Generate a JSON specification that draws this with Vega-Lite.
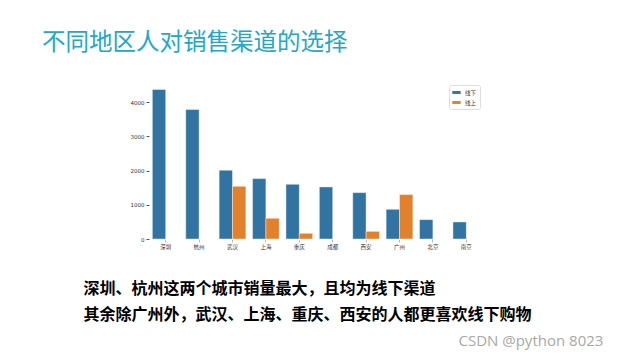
{
  "$schema": "https://vega.github.io/schema/vega-lite/v6.json",
  "width": 334,
  "height": 157,
  "autosize": {"type": "none"},
  "padding": {"left": 149, "top": 82, "right": 157, "bottom": 121},
  "background": "white",
  "title": {
    "text": "不同地区人对销售渠道的选择",
    "anchor": "start",
    "frame": "group",
    "dx": -107,
    "offset": 9,
    "baseline": "alphabetic",
    "font": "Noto Sans CJK SC",
    "fontSize": 23.5,
    "fontWeight": "normal",
    "color": "#22a7cb"
  },
  "data": {
    "values": [
      {"city": "深圳", "channel": "线下", "sales": 4371},
      {"city": "杭州", "channel": "线下", "sales": 3785},
      {"city": "武汉", "channel": "线下", "sales": 2010},
      {"city": "武汉", "channel": "线上", "sales": 1541},
      {"city": "上海", "channel": "线下", "sales": 1766},
      {"city": "上海", "channel": "线上", "sales": 605},
      {"city": "重庆", "channel": "线下", "sales": 1600},
      {"city": "重庆", "channel": "线上", "sales": 166},
      {"city": "成都", "channel": "线下", "sales": 1522},
      {"city": "西安", "channel": "线下", "sales": 1356},
      {"city": "西安", "channel": "线上", "sales": 224},
      {"city": "广州", "channel": "线下", "sales": 868},
      {"city": "广州", "channel": "线上", "sales": 1298},
      {"city": "北京", "channel": "线下", "sales": 566},
      {"city": "南京", "channel": "线下", "sales": 498}
    ]
  },
  "mark": {"type": "bar", "stroke": "#ffffff", "strokeWidth": 0.6, "strokeOpacity": 0.7},
  "encoding": {
    "x": {
      "field": "city",
      "type": "nominal",
      "sort": ["深圳", "杭州", "武汉", "上海", "重庆", "成都", "西安", "广州", "北京", "南京"],
      "scale": {"paddingInner": 0.2, "paddingOuter": 0.1},
      "axis": {
        "title": ["深圳、杭州这两个城市销量最大，且均为线下渠道", "其余除广州外，武汉、上海、重庆、西安的人都更喜欢线下购物"],
        "titleX": -66,
        "titleY": 41,
        "titleAlign": "left",
        "titleAnchor": null,
        "titleBaseline": "top",
        "titleLineHeight": 26,
        "titleFont": "Noto Sans CJK SC",
        "titleFontSize": 16,
        "titleFontWeight": "bold",
        "titleColor": "#000000",
        "labelAngle": 0,
        "labelFont": "Noto Sans CJK SC",
        "labelFontSize": 5.5,
        "labelColor": "#333333",
        "labelPadding": 2,
        "domain": false,
        "ticks": true,
        "tickSize": 3,
        "tickColor": "#bbbbbb",
        "grid": false
      }
    },
    "xOffset": {
      "field": "channel",
      "type": "nominal",
      "scale": {"domain": ["线下", "线上"], "paddingInner": 0, "paddingOuter": 0}
    },
    "y": {
      "field": "sales",
      "type": "quantitative",
      "scale": {"domain": [0, 4590], "nice": false},
      "axis": {
        "values": [0, 1000, 2000, 3000, 4000],
        "format": "d",
        "title": "CSDN @python 8023",
        "titleAngle": 0,
        "titleX": 309,
        "titleY": 258,
        "titleAlign": "left",
        "titleBaseline": "middle",
        "titleFont": "Open Sans",
        "titleFontSize": 15,
        "titleFontWeight": "normal",
        "titleColor": "#a8a8a8",
        "labelFont": "DejaVu Sans",
        "labelFontSize": 5.5,
        "labelColor": "#333333",
        "labelPadding": 2,
        "domain": false,
        "tickSize": 3,
        "tickColor": "#555555",
        "grid": false
      }
    },
    "color": {
      "field": "channel",
      "type": "nominal",
      "scale": {"domain": ["线下", "线上"], "range": ["#3274a1", "#e1812c"]},
      "legend": {
        "title": null,
        "orient": "none",
        "legendX": 300,
        "legendY": 3,
        "fillColor": "#ffffff",
        "strokeColor": "#dddddd",
        "padding": 3,
        "cornerRadius": 2,
        "symbolType": "M-1,-0.35H1V0.35H-1Z",
        "symbolSize": 70,
        "symbolStrokeWidth": 0,
        "labelFont": "Noto Sans CJK SC",
        "labelFontSize": 5.5,
        "labelColor": "#333333",
        "rowPadding": 2
      }
    }
  },
  "config": {
    "view": {"stroke": null}
  }
}
